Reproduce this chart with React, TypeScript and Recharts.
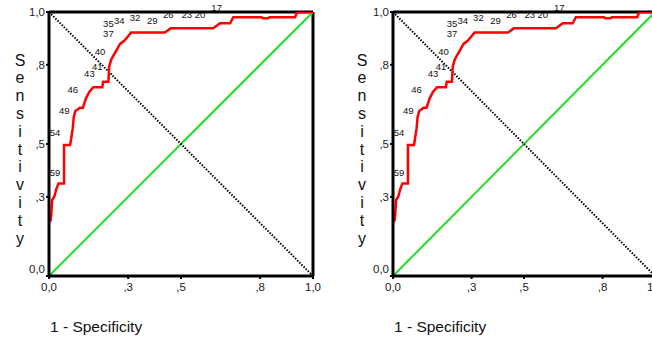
import React from 'react';
import { ComposedChart, Line, XAxis, YAxis, ReferenceLine, ReferenceDot } from 'recharts';

// ROC curve (1 - specificity, sensitivity)
const rocX = [0.005, 0.008, 0.012, 0.02, 0.028, 0.036, 0.057, 0.057, 0.08, 0.084, 0.09, 0.094, 0.1, 0.117, 0.128, 0.14, 0.153, 0.168, 0.202, 0.205, 0.225, 0.228, 0.235, 0.245, 0.256, 0.269, 0.284, 0.298, 0.311, 0.439, 0.461, 0.622, 0.648, 0.686, 0.698, 0.806, 0.81, 0.83, 0.835, 0.932, 0.94, 1.0];
const rocY = [0.206, 0.225, 0.288, 0.3, 0.33, 0.35, 0.35, 0.496, 0.496, 0.52, 0.56, 0.603, 0.625, 0.637, 0.637, 0.673, 0.698, 0.715, 0.715, 0.736, 0.736, 0.793, 0.818, 0.837, 0.856, 0.879, 0.89, 0.906, 0.922, 0.922, 0.938, 0.938, 0.957, 0.957, 0.98, 0.98, 0.976, 0.976, 0.98, 0.98, 1.0, 1.0];

// reference diagonals
const diagX = [0, 1];
const greenY = [0, 1];
const blackY = [1, 0];

// cut-off labels along the curve
const cutoffText = ['17', '20', '23', '26', '29', '32', '34', '35', '37', '40', '41', '43', '46', '49', '54', '59'];
const cutoffX = [0.635, 0.572, 0.522, 0.452, 0.391, 0.326, 0.266, 0.225, 0.225, 0.193, 0.183, 0.153, 0.09, 0.058, 0.023, 0.023];
const cutoffY = [1.018, 0.99, 0.99, 0.99, 0.967, 0.978, 0.967, 0.957, 0.919, 0.85, 0.792, 0.768, 0.707, 0.626, 0.543, 0.393];

// axes
const tickValues = [0, 0.3, 0.5, 0.8, 1];
const tickLabels = ['0,0', ',3', ',5', ',8', '1,0'];
const yTitle = 'Sensitivity';
const xTitle = '1 - Specificity';

const FONT = '"Liberation Sans", Arial, sans-serif';

const rocData = rocX.map((x, i) => ({ x, y: rocY[i] }));
const greenData = diagX.map((x, i) => ({ x, y: greenY[i] }));
const blackData = diagX.map((x, i) => ({ x, y: blackY[i] }));

const fmt = (v: number) => {
  const i = tickValues.findIndex((t) => Math.abs(t - v) < 1e-9);
  return i >= 0 ? tickLabels[i] : String(v);
};

const YTick = (props: any) => {
  const { x, y, payload } = props;
  const v = payload.value;
  return (
    <text x={x} y={y + (v === 0 ? -7 : 0)} dy="0.35em" textAnchor="end" fontSize={11.5} fontFamily={FONT} fill="#222">
      {fmt(v)}
    </text>
  );
};

const XTick = (props: any) => {
  const { x, y, payload } = props;
  return (
    <text x={x} y={y} dy="0.75em" textAnchor="middle" fontSize={11.5} fontFamily={FONT} fill="#222">
      {fmt(payload.value)}
    </text>
  );
};

const LabelShape = (text: string) => (props: any) => (
  <text x={props.cx} y={props.cy} dy="0.35em" textAnchor="middle" fontSize={9.5} fontFamily={FONT} fill="#111">
    {text}
  </text>
);

const RocChart = ({ left, plotWidth, titleX }: { left: number; plotWidth: number; titleX: number }) => {
  const width = 330;
  const yAxisW = 49;
  const rightMargin = width - yAxisW - plotWidth;
  return (
    <div style={{ position: 'absolute', left, top: 0 }}>
      <ComposedChart width={width} height={337} margin={{ top: 12, right: rightMargin, bottom: 0, left: 0 }}>
        <XAxis
          dataKey="x"
          type="number"
          domain={[0, 1]}
          ticks={tickValues}
          allowDataOverflow
          height={61}
          tickSize={3}
          tickMargin={3}
          axisLine={{ stroke: '#000', strokeWidth: 3 }}
          tickLine={{ stroke: '#000', strokeWidth: 2 }}
          tick={<XTick />}
          label={{
            content: (p: any) => (
              <text x={p.viewBox.x + 1} y={p.viewBox.y + 56} fontSize={15.5} fontFamily={FONT} fill="#111">
                {xTitle}
              </text>
            ),
          }}
        />
        <YAxis
          type="number"
          domain={[0, 1]}
          ticks={tickValues}
          allowDataOverflow
          width={yAxisW}
          tickSize={3}
          tickMargin={1}
          axisLine={{ stroke: '#000', strokeWidth: 3 }}
          tickLine={{ stroke: '#000', strokeWidth: 2 }}
          tick={<YTick />}
          label={{
            content: (p: any) => (
              <text fontSize={16} fontFamily={FONT} fill="#111" textAnchor="middle">
                {yTitle.split('').map((ch, i) => (
                  <tspan key={i} x={titleX} y={p.viewBox.y + 53.5 + i * 17.8}>
                    {ch}
                  </tspan>
                ))}
              </text>
            ),
          }}
        />
        <ReferenceLine y={1} stroke="#000" strokeWidth={3} />
        <ReferenceLine x={1} stroke="#000" strokeWidth={3} />
        <Line data={greenData} dataKey="y" type="linear" stroke="#22dd22" strokeWidth={2} dot={false} activeDot={false} isAnimationActive={false} />
        <Line data={blackData} dataKey="y" type="linear" stroke="#000" strokeWidth={2} strokeDasharray="1.5 1.5" dot={false} activeDot={false} isAnimationActive={false} />
        <Line data={rocData} dataKey="y" type="linear" stroke="#ff0000" strokeWidth={2.5} dot={false} activeDot={false} isAnimationActive={false} />
        {cutoffText.map((t, i) => (
          <ReferenceDot key={t} x={cutoffX[i]} y={cutoffY[i]} r={0} ifOverflow="visible" shape={LabelShape(t)} />
        ))}
      </ComposedChart>
    </div>
  );
};

export default function App() {
  return (
    <div style={{ position: 'absolute', left: 0, top: 0, width: 652, height: 337, overflow: 'hidden', background: '#fff' }}>
      <RocChart left={0} plotWidth={264} titleX={20} />
      <RocChart left={344} plotWidth={262} titleX={18} />
    </div>
  );
}
